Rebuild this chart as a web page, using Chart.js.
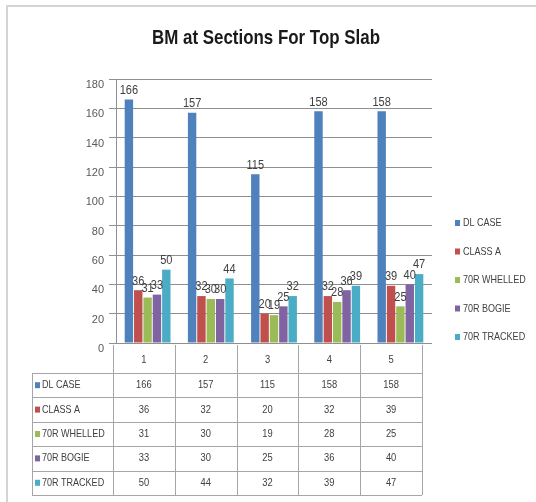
<!DOCTYPE html>
<html>
<head>
<meta charset="utf-8">
<script src="https://cdn.jsdelivr.net/npm/chart.js@4/dist/chart.umd.min.js"></script>
<style>
  html, body { margin: 0; padding: 0; background: #fff; }
  #wrap { width: 536px; height: 502px; }
</style>
</head>
<body>
<div id="wrap"><canvas id="barChart"></canvas></div>
<script>
// data
const categories = ['1', '2', '3', '4', '5'];
const seriesNames = ['DL CASE', 'CLASS A', '70R WHELLED', '70R BOGIE', '70R TRACKED'];
const dlCase = [166, 157, 115, 158, 158];
const classA = [36, 32, 20, 32, 39];
const whelled = [31, 30, 19, 28, 25];
const bogie = [33, 30, 25, 36, 40];
const tracked = [50, 44, 32, 39, 47];
const yTicks = [0, 20, 40, 60, 80, 100, 120, 140, 160, 180];
const titleText = 'BM at Sections For Top Slab';

const seriesValues = [dlCase, classA, whelled, bogie, tracked];
const colors = ['#4F81BD', '#C0504D', '#9BBB59', '#8064A2', '#4BACC6'];
const FONT = '"Liberation Sans", Arial, sans-serif';

// text squeezed horizontally, to get closer to the narrow office font
function narrowText(c, text, x, y, align, sx) {
    c.save();
    c.translate(x, y);
    c.scale(sx, 1);
    c.textAlign = align;
    c.fillText(text, 0, 0);
    c.restore();
}

// frame, title, value labels, data table and legend
const extras = {
    id: 'extras',
    beforeDraw(chart) {
        const c = chart.ctx;
        c.save();
        c.fillStyle = '#fff';
        c.fillRect(0, 0, chart.width, chart.height);
        c.strokeStyle = '#d4d4d4';
        c.lineWidth = 2;
        c.strokeRect(7, 6, chart.width + 10, chart.height + 10);
        c.restore();
    },
    afterDatasetsDraw(chart) {
        const c = chart.ctx;
        c.save();
        c.font = '12px ' + FONT;
        c.fillStyle = '#404040';
        c.textBaseline = 'bottom';
        chart.data.datasets.forEach((ds, i) => {
            chart.getDatasetMeta(i).data.forEach((bar, j) => {
                narrowText(c, String(ds.data[j]), bar.x, bar.y - 3, 'center', 0.92);
            });
        });
        c.restore();
    },
    afterDraw(chart) {
        const c = chart.ctx;
        const area = chart.chartArea;
        const colW = (area.width - 7) / categories.length;
        const x0 = area.left - 3;
        const labelLeft = 32;
        const headTop = area.bottom + 2, headBottom = 373, rowH = 24.4;
        const tableBottom = headBottom + rowH * seriesNames.length;
        c.save();

        // title
        c.font = 'bold 21px ' + FONT;
        c.fillStyle = '#1a1a1a';
        c.textBaseline = 'middle';
        const tw = c.measureText(titleText).width;
        narrowText(c, titleText, 266, 38, 'center', Math.min(1, 228 / tw));

        c.strokeStyle = '#a6a6a6';
        c.lineWidth = 1;
        c.beginPath();
        // vertical lines
        for (let i = 0; i <= categories.length; i++) {
            const x = Math.round(x0 + i * colW) + 0.5;
            c.moveTo(x, headTop);
            c.lineTo(x, tableBottom);
        }
        c.moveTo(labelLeft + 0.5, headBottom);
        c.lineTo(labelLeft + 0.5, tableBottom);
        // horizontal lines
        for (let r = 0; r <= seriesNames.length; r++) {
            const y = Math.round(headBottom + r * rowH) + 0.5;
            c.moveTo(labelLeft, y);
            c.lineTo(x0 + colW * categories.length, y);
        }
        c.stroke();

        c.font = '11px ' + FONT;
        c.fillStyle = '#404040';
        c.textBaseline = 'middle';
        categories.forEach((cat, i) => {
            narrowText(c, cat, x0 + (i + 0.5) * colW, (headTop + headBottom) / 2 + 1, 'center', 0.85);
        });
        seriesNames.forEach((name, r) => {
            const yc = headBottom + (r + 0.5) * rowH;
            c.fillStyle = colors[r];
            c.fillRect(labelLeft + 3, yc - 3, 5, 6);
            c.fillStyle = '#404040';
            narrowText(c, name, labelLeft + 10, yc, 'left', 0.82);
            seriesValues[r].forEach((v, i) => {
                narrowText(c, String(v), x0 + (i + 0.5) * colW, yc, 'center', 0.85);
            });
        });

        // legend
        seriesNames.forEach((name, r) => {
            const yc = 223 + r * 28.5;
            c.fillStyle = colors[r];
            c.fillRect(455, yc - 3, 5, 6);
            c.fillStyle = '#404040';
            narrowText(c, name, 463, yc, 'left', 0.82);
        });
        c.restore();
    }
};

const ctx = document.getElementById('barChart').getContext('2d');
new Chart(ctx, {
    type: 'bar',
    data: {
        labels: categories,
        datasets: seriesNames.map((name, i) => ({
            label: name,
            data: seriesValues[i],
            backgroundColor: colors[i],
            barPercentage: 0.9,
            categoryPercentage: 0.74
        }))
    },
    options: {
        responsive: true,
        maintainAspectRatio: false,
        animation: false,
        layout: { padding: { top: 79, left: 76, right: 104, bottom: 159 } },
        plugins: {
            legend: { display: false },
            tooltip: { enabled: false },
            title: { display: false }
        },
        scales: {
            x: {
                display: false
            },
            y: {
                min: 0,
                max: 180,
                afterBuildTicks: s => { s.ticks = yTicks.map(v => ({ value: v })); },
                afterFit: s => { s.width = 40; },
                ticks: {
                    color: '#595959',
                    font: { family: FONT, size: 11 },
                    padding: 5,
                    labelOffset: 6
                },
                grid: { color: '#8f8f8f', tickLength: 7 },
                border: { color: '#8f8f8f' }
            }
        }
    },
    plugins: [extras]
});
</script>
</body>
</html>
